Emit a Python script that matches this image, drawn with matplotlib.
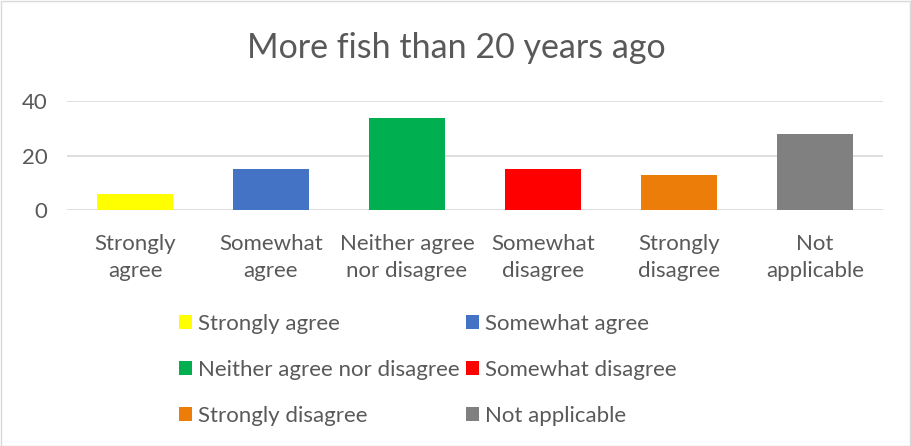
import matplotlib.pyplot as plt
from matplotlib.patches import Patch, Rectangle

# responses to "More fish than 20 years ago"
categories = ["Strongly agree", "Somewhat agree", "Neither agree nor disagree",
              "Somewhat disagree", "Strongly disagree", "Not applicable"]
tick_labels = ["Strongly\nagree", "Somewhat\nagree", "Neither agree\nnor disagree",
               "Somewhat\ndisagree", "Strongly\ndisagree", "Not\napplicable"]
counts = [6, 15, 34, 15, 13, 28]
colors = ["#FFFF00", "#4472C4", "#00B050", "#FF0000", "#ED7D09", "#808080"]

text_color = "#595959"
plt.rcParams['font.family'] = ['Lato', 'DejaVu Sans']

fig = plt.figure(figsize=(9.12, 4.46), dpi=100)
fig.patches.append(Rectangle((0.001, 0.001), 0.997, 0.996, transform=fig.transFigure,
                             fill=False, edgecolor="#D9D9D9", linewidth=1))

ax = fig.add_axes([0.0735, 0.5285, 0.8945, 0.2445])
x = range(len(categories))
ax.bar(x, counts, width=0.56, color=colors, zorder=3)

ax.set_xlim(-0.5, len(categories) - 0.5)
ax.set_ylim(0, 40)
ax.set_yticks([0, 20, 40])
ax.set_xticks(list(x))
ax.set_xticklabels(tick_labels, fontsize=16, color=text_color, linespacing=1.45)
ax.tick_params(axis='both', length=0, colors=text_color, labelsize=16)
ax.tick_params(axis='x', pad=17)
ax.tick_params(axis='y', pad=14)
ax.grid(axis='y', color="#D9D9D9", linewidth=1.2, zorder=0)
for s in ax.spines.values():
    s.set_visible(False)

fig.text(0.5, 0.893, "More fish than 20 years ago", ha='center', va='center',
         fontsize=24.5, color=text_color)

# legend filled row by row: reorder for matplotlib's column-wise fill
handles = [Patch(facecolor=c, label=l) for c, l in zip(colors, categories)]
order = [0, 2, 4, 1, 3, 5]
leg = fig.legend([handles[i] for i in order], [categories[i] for i in order],
                 ncol=2, loc='upper left', bbox_to_anchor=(0.196, 0.297),
                 frameon=False, fontsize=16, handlelength=0.6, handleheight=0.6,
                 handletextpad=0.25, columnspacing=0.3, labelspacing=1.18,
                 borderaxespad=0, borderpad=0)
for t in leg.get_texts():
    t.set_color(text_color)

fig.savefig("out.png", dpi=100)
